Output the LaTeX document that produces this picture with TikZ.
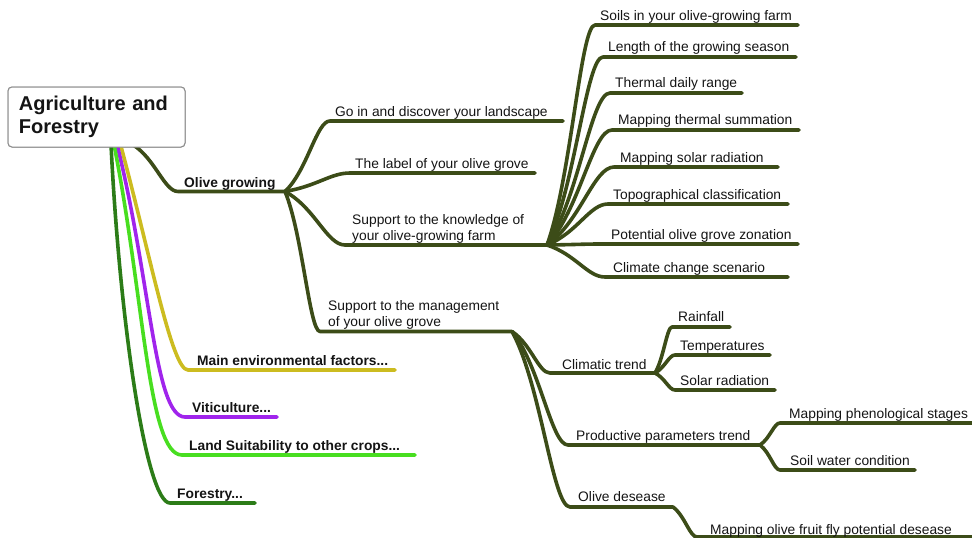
\documentclass[tikz,border=0pt]{standalone}
\usepackage{fontspec}
\setmainfont{Liberation Sans}
\usetikzlibrary{calc}
\definecolor{olivebr}{RGB}{60,76,24}
\definecolor{yelbr}{RGB}{204,188,32}
\definecolor{purbr}{RGB}{160,36,236}
\definecolor{lgrbr}{RGB}{72,222,32}
\definecolor{dgrbr}{RGB}{44,124,24}
\definecolor{txt}{RGB}{20,20,20}
\definecolor{boxline}{RGB}{140,140,140}
\tikzset{
  every node/.style={font=\fontsize{13.8}{16}\selectfont, text=txt, inner sep=0pt},
  lbl/.style={anchor=base west, yshift=-0.8pt},
  lbl2/.style={anchor=south west, align=left},
  bold/.style={font=\bfseries\fontsize{13.8}{16}\selectfont},
  mmcurve/.style={to path={let \p1=(\tikztostart),\p2=(\tikztotarget) in
     .. controls ({\x1+0.5*(\x2-\x1)},{\y1+0.3*(\y2-\y1)}) and ({\x1+0.7*(\x2-\x1)},\y2) .. (\tikztotarget)}},
  pcurve/.style n args={3}{to path={let \p1=(\tikztostart),\p2=(\tikztotarget) in
     .. controls ({\x1+#1*(\x2-\x1)},{\y1+#2*(\y2-\y1)}) and ({\x1+#3*(\x2-\x1)},\y2) .. (\tikztotarget)}},
  br/.style={line width=3.6pt, line cap=round, line join=round, draw=olivebr},
  rootbox/.style={draw=boxline, line width=1pt, fill=white, rounded corners=4pt,
     minimum width=177pt, minimum height=60pt, text width=155pt, inner xsep=11pt,
     align=left, font=\bfseries\fontsize{20}{23}\selectfont},
}
\begin{document}
\begin{tikzpicture}[x=1pt,y=-1pt]
\useasboundingbox (0,0) rectangle (972,538);

% root node
\node[rootbox] (root) at (96.5,117) {Agriculture and\\Forestry};
\coordinate (r-og)   at ([xshift=125pt,yshift=3pt]root.south west);
\coordinate (r-env)  at ([xshift=113pt,yshift=3pt]root.south west);
\coordinate (r-vit)  at ([xshift=109.5pt,yshift=3pt]root.south west);
\coordinate (r-land) at ([xshift=106.5pt,yshift=3pt]root.south west);
\coordinate (r-for)  at ([xshift=103.5pt,yshift=3pt]root.south west);

% first level coordinates
\coordinate (og-s) at (178,191.5);   \coordinate (og-e) at (285,191.5);
\coordinate (env-s) at (188,370);  \coordinate (env-e) at (395,370);
\coordinate (vit-s) at (185,417);  \coordinate (vit-e) at (277,417);
\coordinate (land-s) at (182,455); \coordinate (land-e) at (415,455);
\coordinate (for-s) at (170,503);  \coordinate (for-e) at (255,503);

% second level
\coordinate (go-s) at (330,121);  \coordinate (go-e) at (563,121);
\coordinate (lab-s) at (350,173); \coordinate (lab-e) at (535,173);
\coordinate (kn-s) at (345,245);  \coordinate (kn-e) at (547,245);
\coordinate (mg-s) at (320,331.5);  \coordinate (mg-e) at (512,331.5);

% children of knowledge
\coordinate (soil-s) at (595,25);  \coordinate (soil-e) at (798,25);
\coordinate (len-s) at (603,57);   \coordinate (len-e) at (796,57);
\coordinate (thr-s) at (610,93);   \coordinate (thr-e) at (742,93);
\coordinate (mts-s) at (612,130);  \coordinate (mts-e) at (799,130);
\coordinate (msr-s) at (614,167);  \coordinate (msr-e) at (778,167);
\coordinate (topo-s) at (608,204); \coordinate (topo-e) at (788,204);
\coordinate (pot-s) at (600,244);  \coordinate (pot-e) at (798,244);
\coordinate (clim-s) at (605,277); \coordinate (clim-e) at (788,277);

% children of management
\coordinate (ct-s) at (550,373); \coordinate (ct-e) at (655,373);
\coordinate (pp-s) at (568,445); \coordinate (pp-e) at (760,445);
\coordinate (od-s) at (570,507); \coordinate (od-e) at (673,507);

\coordinate (rain-s) at (672,327); \coordinate (rain-e) at (730,327);
\coordinate (temp-s) at (675,355); \coordinate (temp-e) at (770,355);
\coordinate (sol-s) at (675,390);  \coordinate (sol-e) at (775,390);
\coordinate (phen-s) at (780,423); \coordinate (phen-e) at (975,423);
\coordinate (swc-s) at (780,470);  \coordinate (swc-e) at (915,470);
\coordinate (fly-s) at (697,537);  \coordinate (fly-e) at (975,537);

% root branches (coloured)
\draw[br, draw=yelbr]  (r-env)  to[pcurve={0.45}{0.5}{0.76}] (env-s)  -- (env-e);
\draw[br, draw=purbr]  (r-vit)  to[pcurve={0.5}{0.5}{0.55}] (vit-s)  -- (vit-e);
\draw[br, draw=lgrbr]  (r-land) to[pcurve={0.45}{0.5}{0.5}] (land-s) -- (land-e);
\draw[br, draw=dgrbr]  (r-for)  to[pcurve={0.15}{0.5}{0.6}] (for-s)  -- (for-e);
\draw[br] (r-og) to[mmcurve] (og-s) -- (og-e);

% redraw root box on top
\node[rootbox] at (root.center) {Agriculture and\\Forestry};

% olive growing children
\draw[br] (og-e) to[mmcurve] (go-s) -- (go-e);
\draw[br] (og-e) to[mmcurve] (lab-s) -- (lab-e);
\draw[br] (og-e) to[mmcurve] (kn-s) -- (kn-e);
\draw[br] (og-e) to[mmcurve] (mg-s) -- (mg-e);

\foreach \c in {soil,len,thr,mts,msr,topo,pot,clim}
  \draw[br] (kn-e) to[mmcurve] (\c-s) -- (\c-e);

\foreach \c in {ct,pp,od}
  \draw[br] (mg-e) to[mmcurve] (\c-s) -- (\c-e);
\foreach \c in {rain,temp,sol}
  \draw[br] (ct-e) to[mmcurve] (\c-s) -- (\c-e);
\foreach \c in {phen,swc}
  \draw[br] (pp-e) to[mmcurve] (\c-s) -- (\c-e);
\draw[br] (od-e) to[mmcurve] (fly-s) -- (fly-e);

% labels
\node[lbl,bold] (og) at (184,186.5) {Olive growing};
\node[lbl,bold] (env) at (197,365) {Main environmental factors...};
\node[lbl,bold] (vit) at (192,412) {Viticulture...};
\node[lbl,bold] (land) at (189,450) {Land Suitability to other crops...};
\node[lbl,bold] (for) at (177,498) {Forestry...};

\node[lbl] (go) at (335,116) {Go in and discover your landscape};
\node[lbl] (lab) at (355,168) {The label of your olive grove};
\node[lbl2] (kn) at (352,244) {Support to the knowledge of\\your olive-growing farm};
\node[lbl2] (mg) at (328,329.5) {Support to the management\\of your olive grove};

\node[lbl] (soil) at (600,20) {Soils in your olive-growing farm};
\node[lbl] (len) at (608,51) {Length of the growing season};
\node[lbl] (thr) at (615,87) {Thermal daily range};
\node[lbl] (mts) at (618,123.5) {Mapping thermal summation};
\node[lbl] (msr) at (620,161.5) {Mapping solar radiation};
\node[lbl] (topo) at (613,198.5) {Topographical classification};
\node[lbl] (pot) at (611,238.5) {Potential olive grove zonation};
\node[lbl] (clim) at (613,272) {Climate change scenario};

\node[lbl] (ct) at (562,368.5) {Climatic trend};
\node[lbl] (pp) at (576,439.5) {Productive parameters trend};
\node[lbl] (od) at (578,501) {Olive desease};
\node[lbl] (rain) at (678,321) {Rainfall};
\node[lbl] (temp) at (680,349.5) {Temperatures};
\node[lbl] (sol) at (680,384.5) {Solar radiation};
\node[lbl] (phen) at (789,418) {Mapping phenological stages};
\node[lbl] (swc) at (790,465) {Soil water condition};
\node[lbl] (fly) at (710,533.5) {Mapping olive fruit fly potential desease};
\end{tikzpicture}
\end{document}
